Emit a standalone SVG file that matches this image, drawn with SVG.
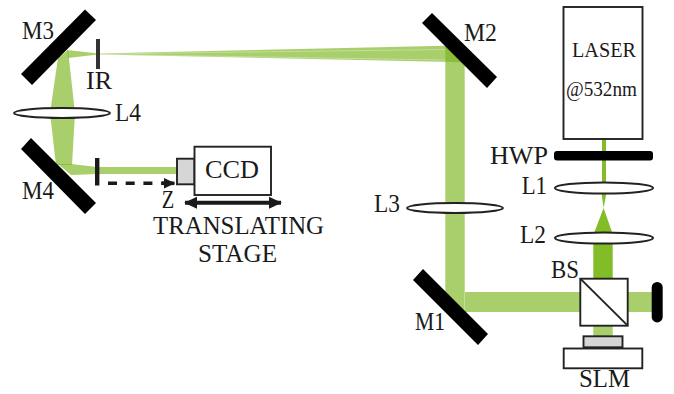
<svg xmlns="http://www.w3.org/2000/svg" width="674" height="394" viewBox="0 0 674 394">
<style>
.b{fill:#7ab51d;opacity:.65}
.bd{fill:#82bc26}
.st{stroke:#fff;stroke-width:.9;opacity:.35;fill:none}
.m{fill:#000}
.l{fill:#fff;stroke:#222;stroke-width:2}
.box{fill:#fff;stroke:#222;stroke-width:1.9}
.g{fill:#d6d6d6;stroke:#222;stroke-width:1.9}
text{font-family:"Liberation Serif","Times New Roman",serif;font-size:25px;fill:#1a1a1a}
.s{font-size:21px}
</style>
<defs>
<marker id="a" markerWidth="4" markerHeight="4" refX="3" refY="2" orient="auto-start-reverse" markerUnits="strokeWidth"><path d="M0 0.5L3.2 2L0 3.5Z" fill="#1a1a1a"/></marker>
</defs>
<g id="connectors">
<polygon class="bd" points="602,139 606,139 606,190 602,190"/>
<polygon class="bd" points="601,190 607,190 603.6,208"/>
<polygon class="bd" points="603.6,208 612.7,234 593.7,234"/>
<polygon class="bd" points="593.3,240 612.7,240 612.7,279 593.3,279"/>
<polygon class="b" points="593.3,326 612.7,326 612.7,337 593.3,337"/>
<polygon class="b" points="628,292 652,292 652,312 628,312"/>
<polygon class="b" points="465,292 581,292 581,312 465,312"/>
<polygon class="b" points="445.3,45 464.7,62 464.7,312 445.3,292"/>
<polygon class="b" points="445.3,45.7 464.7,62.3 98,54.5 98,53.5"/>
<path class="st" d="M445 49.5L100 54M445 60L100 54.3"/>
<polygon class="b" points="98,54.5 98,53.5 67,50 68,58"/>
<polygon class="b" points="58,58 68,50 75,113 50,113"/>
<polygon class="b" points="50,113 75,113 72,165 56,165"/>
<polygon class="b" points="58,164 71,164 97,167 97,174 71,175"/>
<polygon class="b" points="97,167 177,167 177,174 97,174"/>
<path d="M108 183.3H168" stroke="#1a1a1a" stroke-width="3.6" stroke-dasharray="9 8.7" fill="none"/>
<path d="M162 183.3H174.4" stroke="#1a1a1a" stroke-width="3.6" fill="none" marker-end="url(#a)"/>
<path d="M185 202.7H281" stroke="#1a1a1a" stroke-width="4" fill="none" marker-start="url(#a)" marker-end="url(#a)"/>
</g>
<g id="M3"><polygon class="m" points="85,9.5 96,20 32,85 21,74"/><text x="22" y="39" textLength="32" lengthAdjust="spacingAndGlyphs">M3</text></g>
<g id="IR"><rect x="96" y="39" width="4" height="30" fill="#333"/><text x="86" y="89" textLength="26" lengthAdjust="spacingAndGlyphs">IR</text></g>
<g id="L4"><ellipse class="l" cx="62" cy="113" rx="48" ry="5"/><text x="115" y="120.7" textLength="26" lengthAdjust="spacingAndGlyphs">L4</text></g>
<g id="M4"><polygon class="m" points="31,138 96,203 85,214 21,149"/><text x="22" y="199" textLength="32" lengthAdjust="spacingAndGlyphs">M4</text></g>
<g id="detector"><rect x="95" y="158" width="4.4" height="27.5" fill="#1a1a1a"/><text x="161.7" y="208" textLength="12.5" lengthAdjust="spacingAndGlyphs">Z</text></g>
<g id="CCD"><rect class="g" x="177" y="158.7" width="17.5" height="25.6"/><rect class="box" x="194.5" y="146.7" width="76.5" height="48.3"/><text x="205" y="178" textLength="54" lengthAdjust="spacingAndGlyphs">CCD</text></g>
<g id="stage"><text x="153" y="234" textLength="171" lengthAdjust="spacingAndGlyphs">TRANSLATING</text><text x="198" y="262" textLength="79" lengthAdjust="spacingAndGlyphs">STAGE</text></g>
<g id="M2"><polygon class="m" points="432,13 497,77 487,88 422,23"/><text x="464" y="41" textLength="33" lengthAdjust="spacingAndGlyphs">M2</text></g>
<g id="L3"><ellipse class="l" cx="455" cy="208" rx="48" ry="5"/><text x="374" y="212" textLength="26" lengthAdjust="spacingAndGlyphs">L3</text></g>
<g id="M1"><polygon class="m" points="423,269 488,334 478,345 413,280"/><text x="415" y="330" textLength="30" lengthAdjust="spacingAndGlyphs">M1</text></g>
<g id="LASER"><rect class="box" x="563.5" y="7" width="79" height="132"/><text class="s" x="572" y="57" textLength="64" lengthAdjust="spacingAndGlyphs">LASER</text><text class="s" x="566" y="96" textLength="71" lengthAdjust="spacingAndGlyphs">@532nm</text></g>
<g id="HWP"><rect x="554" y="151" width="99" height="9.4" rx="3" fill="#000"/><text x="490" y="164" textLength="58" lengthAdjust="spacingAndGlyphs">HWP</text></g>
<g id="L1"><ellipse class="l" cx="604" cy="188" rx="49" ry="5.5"/><text x="521.7" y="194" textLength="25.3" lengthAdjust="spacingAndGlyphs">L1</text></g>
<g id="L2"><ellipse class="l" cx="604" cy="238" rx="49" ry="5.5"/><text x="520" y="243" textLength="26" lengthAdjust="spacingAndGlyphs">L2</text></g>
<g id="BS"><rect class="box" x="580.3" y="278.7" width="47.4" height="47"/><path d="M580.3 278.7L627.7 325.7" stroke="#222" stroke-width="1.9"/><text x="551" y="278" textLength="28" lengthAdjust="spacingAndGlyphs">BS</text></g>
<g id="block"><rect x="651.7" y="282" width="11" height="40.4" rx="5.5" fill="#000"/></g>
<g id="SLM"><rect class="g" x="583.5" y="336.3" width="39" height="11"/><rect class="box" x="563.7" y="348.5" width="78.6" height="19.8"/><text x="579" y="387" textLength="51" lengthAdjust="spacingAndGlyphs">SLM</text></g>
</svg>
